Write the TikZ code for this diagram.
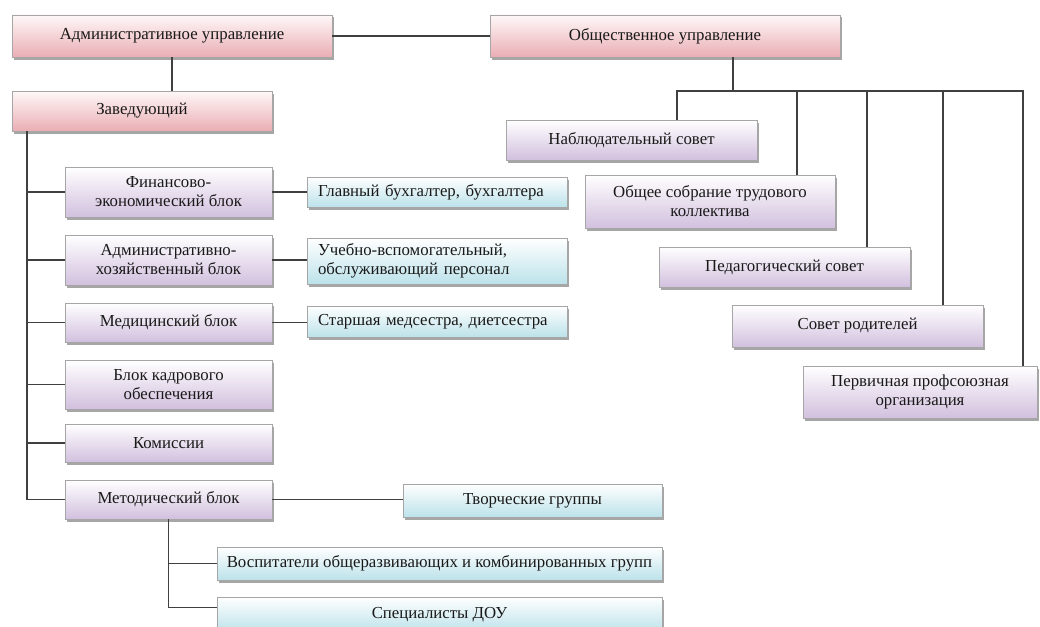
\documentclass[tikz,border=0pt]{standalone}
\usepackage{fontspec}
\setmainfont{Liberation Serif}
\usetikzlibrary{positioning,shadows}

\definecolor{rozovyj}{RGB}{233,174,180}
\definecolor{sirenevyj}{RGB}{210,192,222}
\definecolor{goluboj}{RGB}{188,226,234}
\definecolor{liniya}{RGB}{64,64,64}

\tikzset{
  blok/.style={draw=black!35, line width=0.8pt, align=center, inner sep=2pt, text=black!90,
    font=\fontsize{16.8}{19}\selectfont,
    drop shadow={shadow xshift=1.5pt, shadow yshift=-2.5pt, opacity=.35, fill=black}},
  upr/.style={blok, top color=red!3, bottom color=rozovyj},
  podr/.style={blok, top color=white, bottom color=sirenevyj},
  sotr/.style={blok, top color=white, bottom color=goluboj},
  slevo/.style={text width=238pt, align=left},
  razm/.style 2 args={minimum width=#1pt, minimum height=#2pt},
  svyaz/.style={draw=liniya, line width=1.3pt}
}

\begin{document}
\begin{tikzpicture}[x=1pt,y=-1pt]
  \useasboundingbox (0,0) rectangle (1040,626);

  \node[upr, razm={320}{42}] (adm) at (172,36) {Административное управление};
  \node[upr, razm={350}{42}] (obsh) at (665,36) {Общественное управление};
  \node[upr, razm={260}{40}] (zav) at (142,111) {Заведующий};

  \node[podr, razm={207}{50}] (fin) at (168.5,192) {Финансово-\\экономический блок};
  \node[podr, razm={207}{50}] (ahb) at (168.5,260) {Административно-\\хозяйственный блок};
  \node[podr, razm={207}{39}] (med) at (168.5,322.5) {Медицинский блок};
  \node[podr, razm={207}{49}] (kadr) at (168.5,384.5) {Блок кадрового\\обеспечения};
  \node[podr, razm={207}{38}] (kom) at (168.5,443) {Комиссии};
  \node[podr, razm={207}{39}] (met) at (168.5,499.5) {Методический блок};

  \node[sotr, slevo, razm={260}{30}] (gb) at (437,192) {Главный бухгалтер, бухгалтера};
  \node[sotr, slevo, razm={260}{46}] (uv) at (437,261) {Учебно-вспомогательный,\\обслуживающий персонал};
  \node[sotr, slevo, razm={260}{31}] (ss) at (437,321.5) {Старшая медсестра, диетсестра};
  \node[sotr, razm={259}{33}] (tvor) at (532.5,500.5) {Творческие группы};
  \node[sotr, razm={445}{33}] (vosp) at (439.5,563.5) {Воспитатели общеразвивающих и комбинированных групп};
  \node[sotr, razm={445}{35}] (spec) at (439.5,614.5) {Специалисты ДОУ};

  \node[podr, razm={251}{40}] (nabl) at (631.5,140) {Наблюдательный совет};
  \node[podr, razm={250}{53}] (sobr) at (710,201.5) {Общее собрание трудового\\коллектива};
  \node[podr, razm={251}{40}] (ped) at (784.5,267) {Педагогический совет};
  \node[podr, razm={251}{42}] (rod) at (857.5,326) {Совет родителей};
  \node[podr, razm={234}{52}] (perv) at (920,392) {Первичная профсоюзная\\организация};

  \draw[svyaz] (adm.east) -- (obsh.west);
  \draw[svyaz] (adm.south) -- (adm.south |- zav.north);

  \coordinate (stvol) at (27,131);
  \draw[svyaz] (stvol) |- (met.west);
  \foreach \b in {fin,ahb,med,kadr,kom}
    \draw[svyaz] (stvol |- \b.west) -- (\b.west);

  \draw[svyaz] (fin.east) -- (gb.west);
  \draw[svyaz] (ahb.east) -- (ahb.east -| uv.west);
  \draw[svyaz] (med.east) -- (med.east -| ss.west);
  \draw[svyaz] (met.east) -- (met.east -| tvor.west);
  \draw[svyaz] (met.south) |- (vosp.west);
  \draw[svyaz] (met.south) |- ([yshift=7pt]spec.west);

  \coordinate (shina) at (733,91);
  \coordinate (s1) at (677,91);
  \coordinate (s2) at (797,91);
  \coordinate (s3) at (867,91);
  \coordinate (s4) at (943,91);
  \coordinate (s5) at (1023,91);
  \draw[svyaz] (obsh.south -| shina) -- (shina);
  \draw[svyaz] (s1 |- nabl.north) -- (s1) -- (s5) -- (s5 |- perv.north);
  \draw[svyaz] (s2) -- (s2 |- sobr.north);
  \draw[svyaz] (s3) -- (s3 |- ped.north);
  \draw[svyaz] (s4) -- (s4 |- rod.north);
\end{tikzpicture}
\end{document}
